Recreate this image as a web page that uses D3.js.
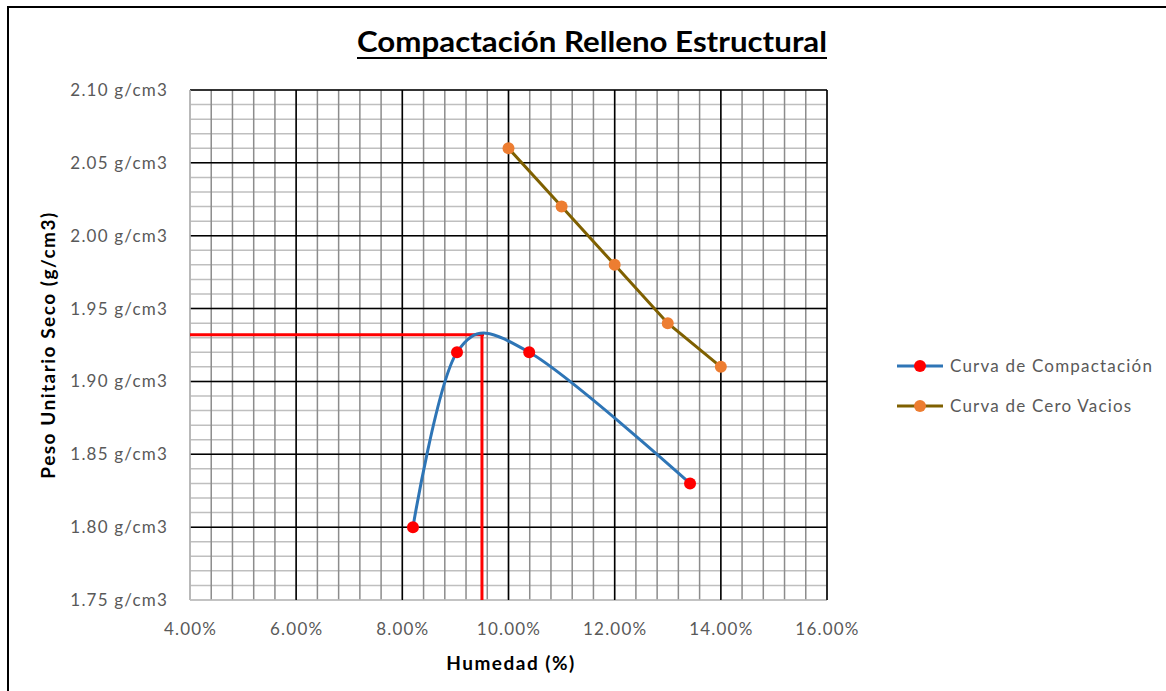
<!DOCTYPE html>
<html>
<head>
<meta charset="utf-8">
<script src="https://cdn.jsdelivr.net/npm/d3@7"></script>
<style>
  body { margin: 0; background: #fff; }
  svg { display: block; }
</style>
</head>
<body>
<svg id="chart" width="1166" height="691"></svg>
<script>
// data
const compHumedad = [0.082, 0.0903, 0.1039, 0.1342];
const compPeso = [1.80, 1.92, 1.92, 1.83];

const ceroHumedad = [0.10, 0.11, 0.12, 0.13, 0.14];
const ceroPeso = [2.06, 2.02, 1.98, 1.94, 1.91];

const optimoHumedad = 0.095;
const optimoPeso = 1.932;

const xTicks = [0.04, 0.06, 0.08, 0.10, 0.12, 0.14, 0.16];
const yTicks = [1.75, 1.80, 1.85, 1.90, 1.95, 2.00, 2.05, 2.10];

const seriesNames = ["Curva de Compactación", "Curva de Cero Vacios"];

const drawChart = function () {
  let svg = d3.select("svg#chart");

  const plot = { left: 190, right: 827, top: 90, bottom: 600 };

  const x = d3.scaleLinear().domain([0.04, 0.16]).range([plot.left, plot.right]);
  const y = d3.scaleLinear().domain([1.75, 2.10]).range([plot.bottom, plot.top]);

  // chart frame
  svg.append("rect")
    .attr("x", 8).attr("y", 7)
    .attr("width", 1170).attr("height", 700)
    .style("fill", "none")
    .style("stroke", "#000")
    .style("stroke-width", 2);

  const grid = svg.append("g");

  // minor grid: every 0.01 g/cm3 and every 0.4 %
  const yMinor = d3.range(1.75, 2.1001, 0.01);
  const xMinor = d3.range(0.04, 0.1601, 0.004);

  grid.selectAll("line.hminor")
    .data(yMinor)
    .join("line")
    .attr("class", "hminor")
    .attr("x1", plot.left).attr("x2", plot.right)
    .attr("y1", d => y(d)).attr("y2", d => y(d))
    .style("stroke", "#bfbfbf")
    .style("stroke-width", 1.5);

  grid.selectAll("line.vminor")
    .data(xMinor)
    .join("line")
    .attr("class", "vminor")
    .attr("x1", d => x(d)).attr("x2", d => x(d))
    .attr("y1", plot.top).attr("y2", plot.bottom)
    .style("stroke", "#8c8c8c")
    .style("stroke-width", 1.5);

  grid.selectAll("line.hmajor")
    .data(yTicks)
    .join("line")
    .attr("class", "hmajor")
    .attr("x1", plot.left).attr("x2", plot.right)
    .attr("y1", d => y(d)).attr("y2", d => y(d))
    .style("stroke", d => d === 1.75 ? "#bfbfbf" : "#000")
    .style("stroke-width", 1.5);

  grid.selectAll("line.vmajor")
    .data(xTicks)
    .join("line")
    .attr("class", "vmajor")
    .attr("x1", d => x(d)).attr("x2", d => x(d))
    .attr("y1", plot.top).attr("y2", plot.bottom)
    .style("stroke", d => d === 0.04 ? "#bfbfbf" : "#000")
    .style("stroke-width", 1.5);

  // tick labels
  const yAxis = d3.axisLeft(y).tickValues(yTicks).tickSize(0).tickPadding(22)
    .tickFormat(d => d3.format(".2f")(d) + " g/cm3");
  svg.append("g")
    .attr("transform", `translate(${plot.left},0)`)
    .call(yAxis)
    .call(g => g.select(".domain").remove())
    .selectAll("text")
    .style("font-family", "Lato, sans-serif")
    .style("font-size", "17px")
    .style("letter-spacing", "1.2px")
    .style("fill", "#595959");

  const xAxis = d3.axisBottom(x).tickValues(xTicks).tickSize(0).tickPadding(23)
    .tickFormat(d3.format(".2%"));
  svg.append("g")
    .attr("transform", `translate(0,${plot.bottom})`)
    .call(xAxis)
    .call(g => g.select(".domain").remove())
    .selectAll("text")
    .style("font-family", "Lato, sans-serif")
    .style("font-size", "17px")
    .style("letter-spacing", "1.2px")
    .style("fill", "#595959");

  // optimum lines
  svg.append("path")
    .attr("d", d3.line()([
      [x(0.04), y(optimoPeso)],
      [x(optimoHumedad) + 2, y(optimoPeso)]
    ]))
    .style("stroke", "#ff0000")
    .style("stroke-width", 3)
    .style("fill", "none");

  svg.append("path")
    .attr("d", d3.line()([
      [x(optimoHumedad), y(optimoPeso)],
      [x(optimoHumedad), y(1.75)]
    ]))
    .style("stroke", "#ff0000")
    .style("stroke-width", 3)
    .style("fill", "none");

  const comp = compHumedad.map((h, i) => [h, compPeso[i]]);
  const cero = ceroHumedad.map((h, i) => [h, ceroPeso[i]]);

  const smooth = d3.line().x(d => x(d[0])).y(d => y(d[1])).curve(d3.curveCardinal.tension(0));
  const straight = d3.line().x(d => x(d[0])).y(d => y(d[1]));

  svg.append("path")
    .attr("d", smooth(comp))
    .style("stroke", "#2e75b6")
    .style("stroke-width", 3)
    .style("fill", "none");

  svg.append("path")
    .attr("d", straight(cero))
    .style("stroke", "#7f6000")
    .style("stroke-width", 3)
    .style("fill", "none");

  svg.selectAll("circle.comp")
    .data(comp)
    .join("circle")
    .attr("class", "comp")
    .attr("cx", d => x(d[0])).attr("cy", d => y(d[1]))
    .attr("r", 6)
    .style("fill", "#ff0000");

  svg.selectAll("circle.cero")
    .data(cero)
    .join("circle")
    .attr("class", "cero")
    .attr("cx", d => x(d[0])).attr("cy", d => y(d[1]))
    .attr("r", 6)
    .style("fill", "#ed7d31");

  // title
  svg.append("text")
    .attr("x", 592).attr("y", 52)
    .attr("text-anchor", "middle")
    .attr("textLength", 470)
    .attr("lengthAdjust", "spacingAndGlyphs")
    .style("font-family", "Lato, sans-serif")
    .style("font-weight", "bold")
    .style("font-size", "29px")
    .style("fill", "#000")
    .text("Compactación Relleno Estructural");

  svg.append("line")
    .attr("x1", 357).attr("x2", 827)
    .attr("y1", 58).attr("y2", 58)
    .style("stroke", "#000")
    .style("stroke-width", 2);

  // axis titles
  svg.append("text")
    .attr("x", 511).attr("y", 670)
    .attr("text-anchor", "middle")
    .style("font-family", "Lato, sans-serif")
    .style("font-weight", "bold")
    .style("font-size", "19px")
    .style("letter-spacing", "1.5px")
    .style("fill", "#000")
    .text("Humedad (%)");

  svg.append("text")
    .attr("transform", "translate(55,345) rotate(-90)")
    .attr("text-anchor", "middle")
    .style("font-family", "Lato, sans-serif")
    .style("font-weight", "bold")
    .style("font-size", "19px")
    .style("letter-spacing", "1.5px")
    .style("fill", "#000")
    .text("Peso Unitario Seco (g/cm3)");

  // legend
  const legendColors = [
    { line: "#2e75b6", dot: "#ff0000" },
    { line: "#7f6000", dot: "#ed7d31" }
  ];
  const legend = svg.selectAll("g.legend")
    .data(seriesNames)
    .join("g")
    .attr("class", "legend")
    .attr("transform", (d, i) => `translate(897,${366 + i * 40})`);

  legend.append("line")
    .attr("x1", 0).attr("x2", 46)
    .style("stroke", (d, i) => legendColors[i].line)
    .style("stroke-width", 3);

  legend.append("circle")
    .attr("cx", 23).attr("r", 6)
    .style("fill", (d, i) => legendColors[i].dot);

  legend.append("text")
    .attr("x", 53).attr("dy", "0.35em")
    .style("font-family", "Lato, sans-serif")
    .style("font-size", "17px")
    .style("letter-spacing", "1.2px")
    .style("fill", "#595959")
    .text(d => d);
};

drawChart();
</script>
</body>
</html>
